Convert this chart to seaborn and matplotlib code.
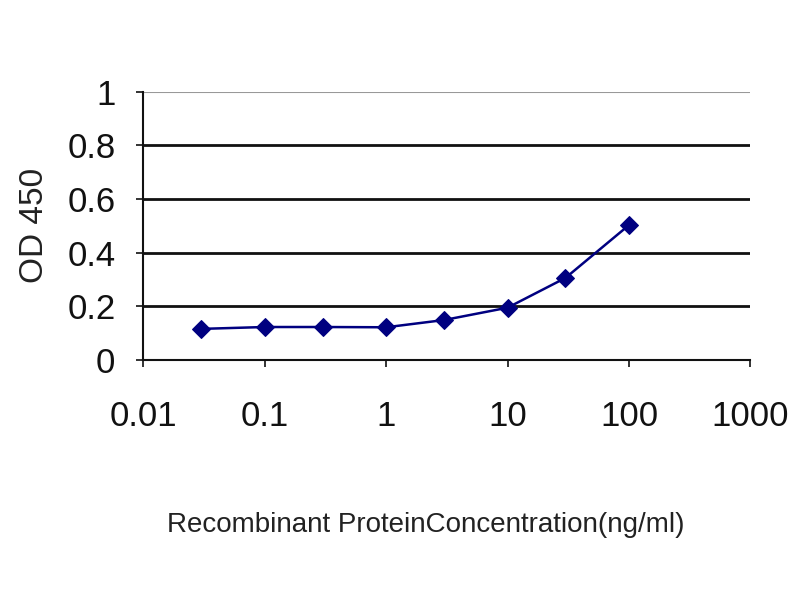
import matplotlib
matplotlib.use("Agg")
import matplotlib.pyplot as plt
import seaborn as sns
import pandas as pd

concentration = [0.03, 0.1, 0.3, 1, 3, 10, 30, 100]
od450 = [0.116, 0.123, 0.123, 0.122, 0.149, 0.195, 0.306, 0.503]
x_ticks = [0.01, 0.1, 1, 10, 100, 1000]
x_tick_labels = ["0.01", "0.1", "1", "10", "100", "1000"]
y_ticks = [0, 0.2, 0.4, 0.6, 0.8, 1]
y_tick_labels = ["0", "0.2", "0.4", "0.6", "0.8", "1"]

sns.set_style("white")
plt.rcParams["font.family"] = ["Liberation Sans", "DejaVu Sans"]

df = pd.DataFrame({"conc": concentration, "od": od450})

fig = plt.figure(figsize=(8, 6), dpi=100)
ax = fig.add_axes([0.179, 0.40, 0.759, 0.447])

sns.lineplot(data=df, x="conc", y="od", ax=ax, color="#000080",
             marker="D", markersize=9, markeredgecolor="#000080",
             linewidth=1.8)

ax.set_xscale("log")
ax.set_xlim(0.01, 1000)
ax.set_ylim(0, 1)
ax.set_xticks(x_ticks)
ax.set_xticklabels(x_tick_labels)
ax.minorticks_off()
ax.set_yticks(y_ticks)
ax.set_yticklabels(y_tick_labels)

ax.tick_params(axis="x", direction="out", length=5, width=1.2, pad=24,
               labelsize=25, colors="#111111", bottom=True)
ax.tick_params(axis="y", direction="out", length=5, width=1.2, pad=15,
               labelsize=25, colors="#111111", left=True)

ax.yaxis.grid(True, color="#111111", linewidth=2)
gl = ax.get_ygridlines()
gl[-1].set_color("#999999")
gl[-1].set_linewidth(1.5)
ax.set_axisbelow(True)

for s in ["top", "right"]:
    ax.spines[s].set_visible(False)
for s in ["left", "bottom"]:
    ax.spines[s].set_color("#111111")
    ax.spines[s].set_linewidth(1.5)

ax.set_xlabel("Recombinant ProteinConcentration(ng/ml)", fontsize=20,
              color="#222222")
ax.xaxis.set_label_coords(0.465, -0.565)
ax.set_ylabel("OD 450", fontsize=24, color="#222222")
ax.yaxis.set_label_coords(-0.153, 0.5)

fig.savefig("out.png", dpi=100, facecolor="white")
